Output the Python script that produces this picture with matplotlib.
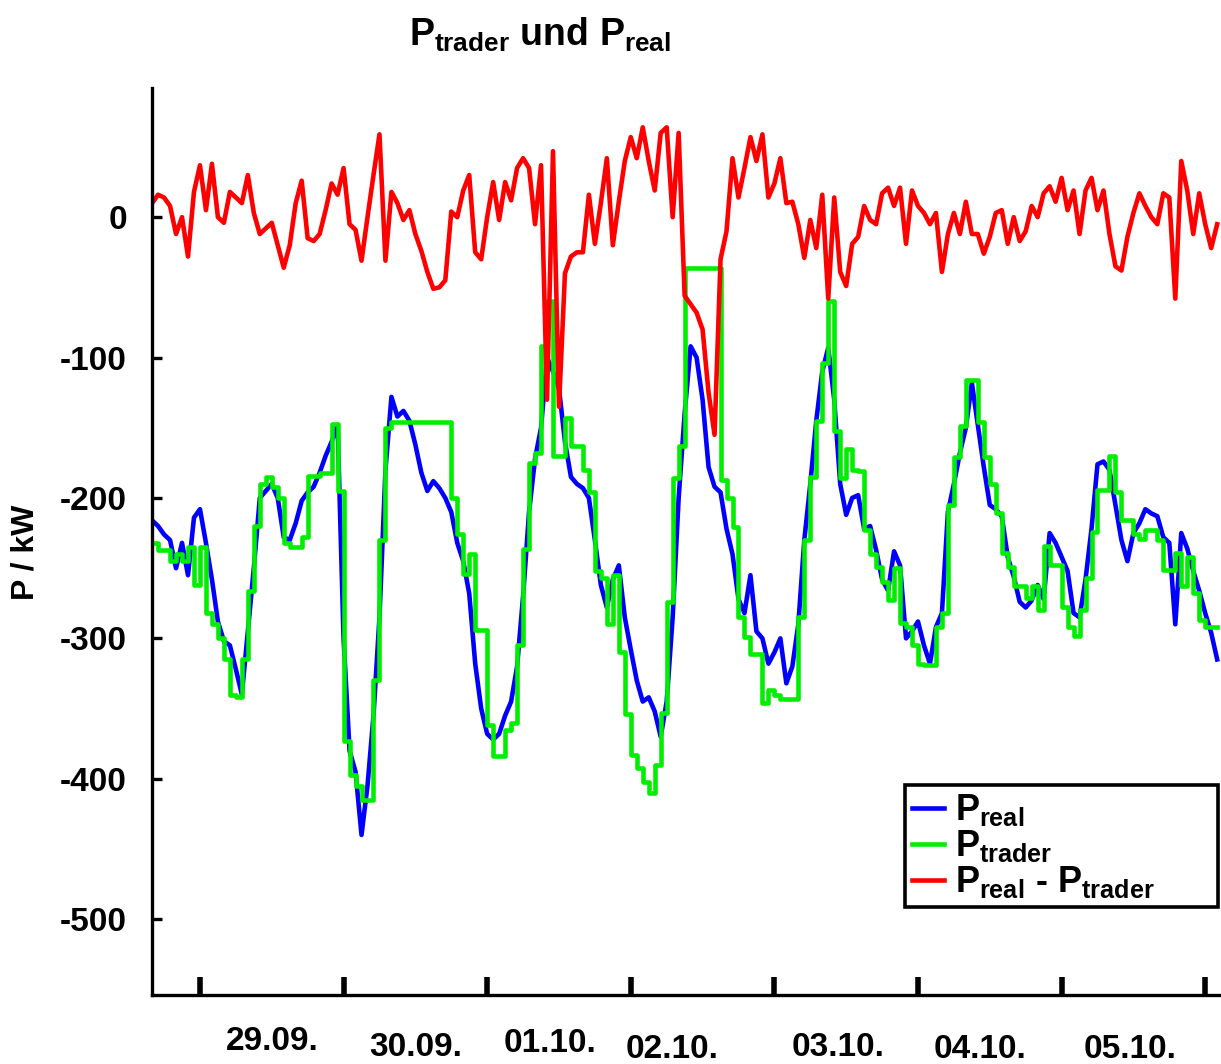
import numpy as np
import matplotlib.pyplot as plt
from matplotlib import transforms

plt.rcParams['font.family'] = ['Liberation Sans', 'DejaVu Sans']
plt.rcParams['font.weight'] = 'bold'
plt.rcParams['mathtext.fontset'] = 'custom'
plt.rcParams['mathtext.rm'] = 'Liberation Sans:bold'
plt.rcParams['mathtext.it'] = 'Liberation Sans:bold'
plt.rcParams['mathtext.bf'] = 'Liberation Sans:bold'

# hourly samples, hour 0 = 29.09. 00:00
hours = np.arange(-8, 171)

p_real = np.array([
    -216, -220, -226, -230, -250, -232, -255, -214,
    -208, -232, -258, -288, -302, -305, -322, -340, -295, -250, -200, -195,
    -190, -200, -228, -230, -218, -202, -196, -192, -182, -170, -160, -148,
    -300, -380, -395, -440, -405, -355, -285, -180, -128, -142, -138, -145,
    -162, -182, -195, -188, -193, -200, -210, -232, -245, -268, -318, -350,
    -368, -372, -368, -355, -345, -320, -270, -210, -172, -150, -100, -110,
    -122, -160, -185, -190, -193, -200, -230, -262, -278, -258, -248, -285,
    -308, -330, -345, -342, -352, -370, -345, -285, -200, -140, -92, -100,
    -130, -178, -192, -196, -222, -240, -272, -282, -255, -295, -300, -318,
    -310, -300, -332, -320, -290, -230, -190, -145, -110, -93, -130, -190,
    -212, -200, -198, -222, -220, -237, -258, -266, -238, -248, -300, -295,
    -288, -305, -318, -292, -282, -210, -190, -168, -150, -118, -148, -178,
    -205, -208, -213, -242, -256, -274, -278, -273, -262, -272, -225, -232,
    -242, -252, -282, -285, -258, -222, -176, -174, -180, -205, -230, -245,
    -225, -218, -208, -211, -213, -228, -232, -290, -225, -236, -252, -266,
    -282, -296, -315,
])

p_trader = np.array([
    -232, -237, -237, -245, -240, -245, -235, -262,
    -235, -282, -290, -300, -315, -340, -342, -315, -266, -220, -190, -185,
    -192, -200, -232, -235, -235, -228, -184, -184, -182, -182, -147, -195,
    -373, -397, -405, -415, -415, -330, -230, -150, -146, -146, -146, -146,
    -146, -146, -146, -146, -146, -146, -200, -226, -254, -240, -294, -294,
    -362, -384, -384, -365, -360, -305, -236, -175, -168, -92, -60, -170,
    -170, -143, -163, -163, -180, -196, -252, -257, -290, -255, -310, -354,
    -383, -392, -402, -410, -390, -353, -274, -186, -163, -36, -36, -36,
    -36, -36, -36, -187, -200, -221, -285, -299, -311, -311, -346, -337,
    -340, -343, -343, -343, -285, -230, -185, -145, -104, -60, -152, -186,
    -165, -180, -181, -223, -240, -249, -260, -273, -250, -289, -292, -305,
    -318, -319, -319, -292, -282, -205, -171, -149, -116, -116, -146, -171,
    -190, -211, -239, -249, -263, -263, -271, -263, -280, -234, -248, -248,
    -278, -292, -298, -280, -257, -224, -194, -194, -170, -196, -216, -216,
    -226, -229, -223, -223, -230, -251, -251, -239, -263, -242, -268, -287,
    -292, -292, -292,
])

p_diff = np.array([
    10, 16, 14, 8, -12, 0, -28, 18,
    37, 5, 38, 0, -4, 18, 14, 10, 30, 3, -12, -8,
    -4, -20, -36, -20, 10, 26, -15, -17, -12, 5, 24, 16,
    35, -5, -9, -31, 0, 30, 59, -31, 18, 10, -2, 5,
    -12, -24, -39, -51, -50, -45, 4, 0, 19, 30, -25, -30,
    0, 25, -2, 25, 12, 35, 42, 35, -5, 37, -130, 47,
    -135, -40, -28, -25, -25, 16, -19, 10, 42, -20, 11, 40,
    57, 42, 64, 40, 19, 60, 64, 0, 60, -56, -62, -68,
    -80, -125, -155, -30, -10, 42, 14, 35, 57, 40, 59, 14,
    24, 42, 10, 11, -5, -29, -2, -22, 16, -58, 14, -39,
    -49, -19, -14, 8, -2, -5, 17, 21, 8, 21, -19, 19,
    8, 3, -5, 3, -39, -12, 3, -12, 11, -12, -12, -26,
    -14, 3, 5, -19, 0, -17, -10, 8, 0, 17, 22, 11,
    28, 5, 19, -12, 19, 28, 5, 19, -12, -35, -38, -14,
    3, 17, 8, 0, -5, 17, 14, -58, 40, 19, -12, 17,
    -5, -22, -5,
])

day_labels = ["29.09.", "30.09.", "01.10.", "02.10.", "03.10.", "04.10.", "05.10."]
y_ticks = [0, -100, -200, -300, -400, -500]

days = hours / 24.0

fig = plt.figure(figsize=(12.21, 10.64), dpi=100)
ax = fig.add_axes([152 / 1221, 1 - 995 / 1064, (1221 - 152) / 1221, (995 - 88) / 1064])

ax.plot(days, p_real, color="#0000ff", lw=3.3, label=r"$P_{real}$")
ax.plot(days, p_trader, color="#00ee00", lw=3.3, drawstyle="steps-post", label=r"$P_{trader}$")
ax.plot(days, p_diff, color="#ff0000", lw=3.3, label=r"$P_{real}$ - $P_{trader}$")

ax.set_xlim(-0.334, 7.11)
ax.set_ylim(-554, 92)

for s in ["top", "right"]:
    ax.spines[s].set_visible(False)
for s in ["left", "bottom"]:
    ax.spines[s].set_linewidth(2.4)

ax.set_yticks(y_ticks)
ax.set_yticklabels([str(v) for v in y_ticks], fontsize=24, fontweight="bold")
ax.tick_params(axis="y", direction="in", length=7, width=2.4, pad=18)

ax.set_xticks(np.arange(0, 8))
ax.set_xticklabels([])
ax.tick_params(axis="x", direction="in", length=13, width=4)

# staggered date labels under the axis
trans = transforms.blended_transform_factory(ax.transData, fig.transFigure)
label_x = [0.5, 1.5, 2.44, 3.29, 4.44, 5.43, 6.48]
label_y = [1042, 1047, 1043, 1050, 1048, 1049, 1050]
for lab, lx, ly in zip(day_labels, label_x, label_y):
    ax.text(lx, 1 - ly / 1064, lab, transform=trans, ha="center", va="center",
            fontsize=24, fontweight="bold", clip_on=False)

fig.text(25 / 1221, 1 - 552 / 1064, "P / kW", rotation=90, ha="center", va="center",
         fontsize=23, fontweight="bold")
fig.text(540 / 1221, 1 - 46 / 1064, r"$P_{trader}$ und $P_{real}$", ha="center",
         va="baseline", fontsize=27, fontweight="bold")

leg = ax.legend(loc="upper left", bbox_to_anchor=(0.704, 0.0915, 0.293, 0.14),
                mode="expand", fontsize=26,
                frameon=True, fancybox=False, framealpha=1, edgecolor="black",
                handlelength=0.9, handletextpad=0.3, labelspacing=0.0,
                borderpad=0.2, borderaxespad=0)
leg.get_frame().set_linewidth(2.6)
for line in leg.get_lines():
    line.set_linewidth(3.3)

fig.savefig("out.png", dpi=100)
